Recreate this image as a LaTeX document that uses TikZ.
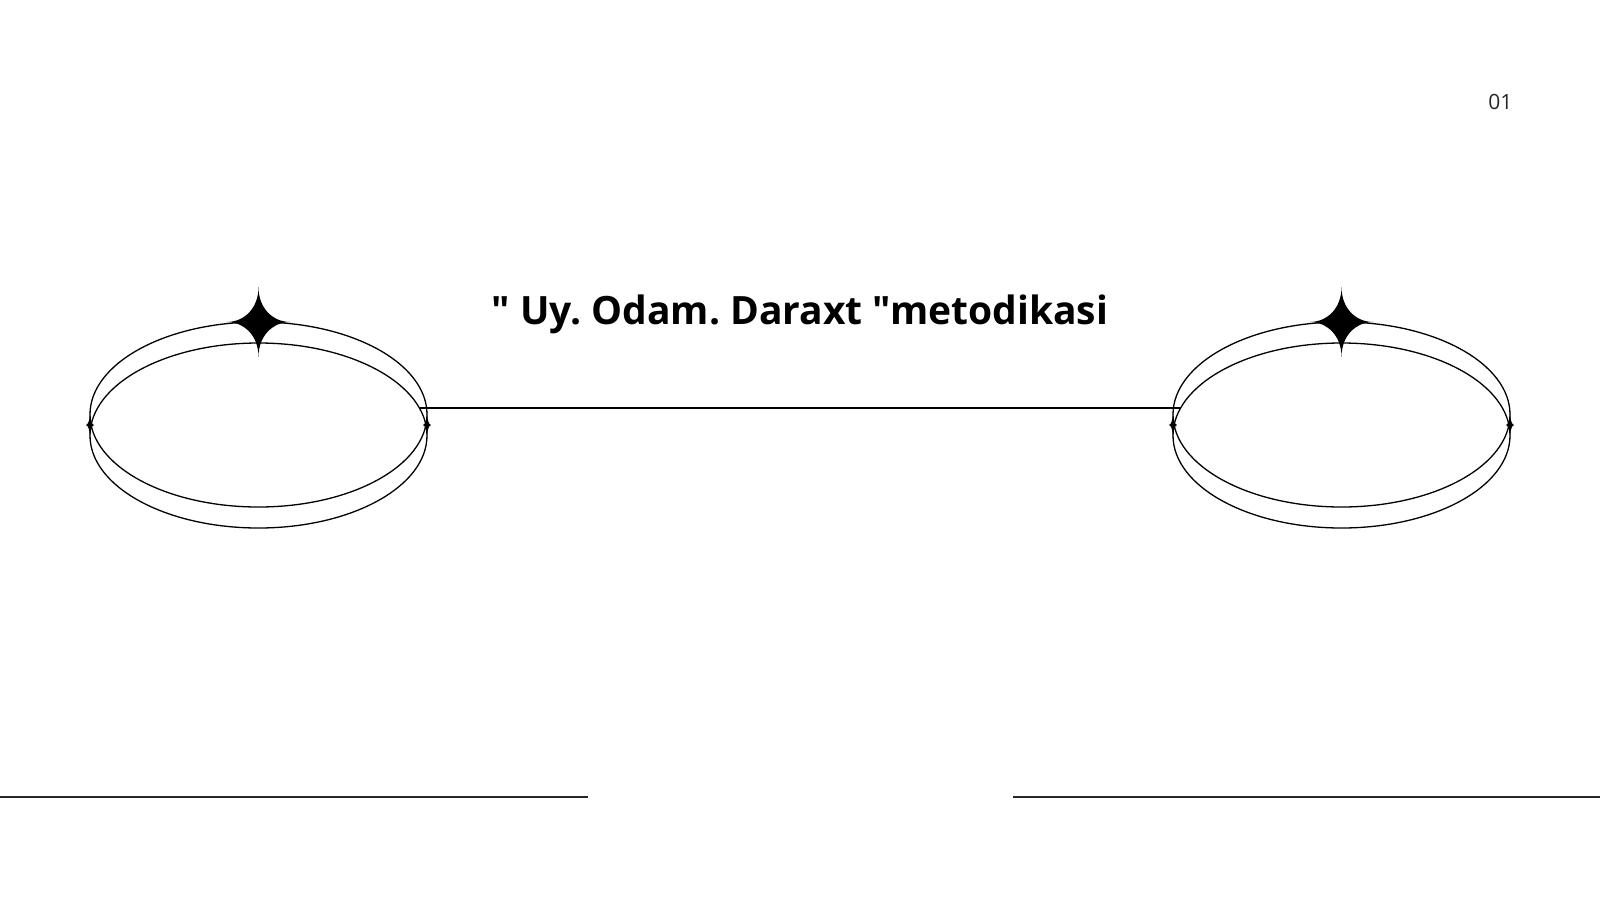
\documentclass[tikz,border=0pt]{standalone}
\usepackage{fontspec}
\setmainfont{Open Sans}
\newfontfamily\titlefont{Open Sans}
\usetikzlibrary{shapes.geometric,calc}
\frenchspacing
\tikzset{
	ring/.style={draw, ellipse, minimum width=337, minimum height=185, inner sep=0, outer sep=0, line width=1.3},
	rule/.style={draw=black!85, line width=2},
	sparkle/.pic={\fill (0,-35) .. controls (0,-14) and (14,0) .. (32,0) .. controls (14,0) and (0,14) .. (0,35) .. controls (0,14) and (-14,0) .. (-32,0) .. controls (-14,0) and (0,-14) .. cycle;}
}
\begin{document}
\begin{tikzpicture}[x=1pt, y=-1pt]
	\useasboundingbox (0,0) rectangle (1600,900);

	\node[font=\titlefont\bfseries\fontsize{39}{47}\selectfont, anchor=base] (title) at (800,324) {" Uy. Odam. Daraxt "metodikasi};
	\node[font=\fontsize{21}{24}\selectfont, text=black!85, anchor=base east] (pagenum) at (1516,109) {01};

	\node[ring] (lefttop) at (258.5,414.5) {};
	\node[ring] (leftbot) at (258.5,435.5) {};
	\node[ring] (righttop) at (1341.5,414.5) {};
	\node[ring] (rightbot) at (1341.5,435.5) {};

	\pic at (lefttop.north) {sparkle};
	\pic at (righttop.north) {sparkle};
	\pic[xscale=.13, yscale=.4] at ($(lefttop.west)!.5!(leftbot.west)$) {sparkle};
	\pic[xscale=.13, yscale=.4] at ($(lefttop.east)!.5!(leftbot.east)$) {sparkle};
	\pic[xscale=.13, yscale=.4] at ($(righttop.west)!.5!(rightbot.west)$) {sparkle};
	\pic[xscale=.13, yscale=.4] at ($(righttop.east)!.5!(rightbot.east)$) {sparkle};

	\coordinate (linkl) at (420,408);
	\coordinate (linkr) at (1180,408);
	\draw[line width=1.5] (linkl) -- (linkr);

	\draw[rule] (0,797) -- (588,797);
	\draw[rule] (1013,797) -- (1600,797);
\end{tikzpicture}
\end{document}
